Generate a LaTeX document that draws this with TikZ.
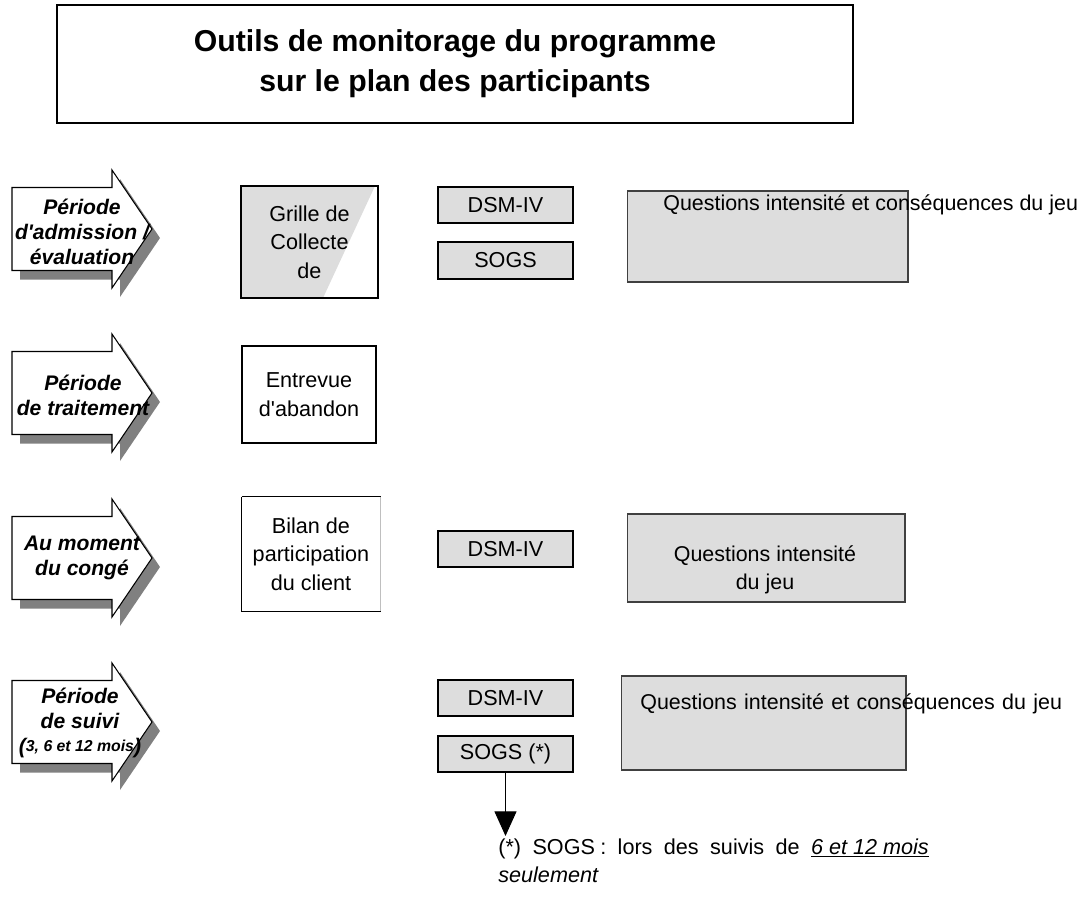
\documentclass[tikz,border=0pt]{standalone}
\usepackage{fontspec}
\setmainfont{Liberation Sans}
\usetikzlibrary{positioning,arrows.meta}
\definecolor{boxgray}{RGB}{221,221,221}
\definecolor{shadowgray}{RGB}{128,128,128}
\tikzset{titlebox/.style={draw, line width=1pt, minimum width=15.92cm, minimum height=2.36cm, align=center, font=\fontsize{17.2}{22.7}\selectfont\bfseries}}
\tikzset{phaselbl/.style={align=center, inner sep=0pt, font=\fontsize{12}{14.2}\selectfont\bfseries\itshape}}
\tikzset{toolbox/.style={draw, line width=0.6pt, inner sep=0pt, align=center, font=\fontsize{12.3}{16.3}\selectfont}}
\tikzset{scalebox/.style={toolbox, fill=boxgray, minimum width=2.7cm, minimum height=0.72cm}}
\tikzset{qbox/.style={draw=black!75, line width=0.6pt, fill=boxgray}}
\tikzset{qtext/.style={inner sep=0pt, align=center, font=\fontsize{12.2}{16.3}\selectfont}}
\tikzset{arr/.style={draw, line width=0.6pt}}

\begin{document}
\begin{tikzpicture}[x=0.02cm, y=-0.02cm]
	\useasboundingbox (0,0) rectangle (1080,903);
	\node[titlebox] (title) at (455,64) {Outils de monitorage du programme\\sur le plan des participants};
	%
	% phase arrows with their shadows
	\foreach \c in {229,393,558,722} {
		\fill[shadowgray] (20,\c-32.5) -- (120,\c-32.5) -- (120,\c-50) -- (160,\c+9)
			-- (120,\c+68) -- (120,\c+50.5) -- (20,\c+50.5) -- cycle;
		\draw[fill=white, line width=0.6pt] (12,\c-41.5) -- (112,\c-41.5) -- (112,\c-59) -- (152,\c)
			-- (112,\c+59) -- (112,\c+41.5) -- (12,\c+41.5) -- cycle;
	}
	\node[phaselbl] (admission) at (82,232) {Période\\d\textquotesingle admission /\\évaluation};
	\node[phaselbl] (traitement) at (83,395) {Période\\de traitement};
	\node[phaselbl] (conge) at (82,558) {Au moment\\du congé};
	\node[phaselbl] (suivi) at (80,723) {Période\\de suivi\\[-1pt]{\fontsize{9}{11}\selectfont\raisebox{-1pt}{\fontsize{12}{12}\selectfont(}3, 6 et 12 mois\raisebox{-1pt}{\fontsize{12}{12}\selectfont)}}};
	%
	% admission / evaluation
	\fill[boxgray] (241,186) -- (375,186) -- (323,298) -- (241,298) -- cycle;
	\node[toolbox, minimum width=2.74cm, minimum height=2.24cm] (grille) at (309.5,242) {Grille de\\Collecte\\de};
	\node[scalebox] (dsm1) at (505.5,205) {DSM-IV};
	\node[scalebox, minimum height=0.74cm] (sogs1) at (505.5,260.5) {SOGS};
	\node[qbox, minimum width=5.62cm, minimum height=1.82cm] (quest1) at (767.5,236.5) {};
	\node[qtext, anchor=west] (quest1txt) at (663,205) {Questions intensité et conséquences du jeu};
	%
	% traitement
	\node[toolbox, minimum width=2.68cm, minimum height=1.94cm] (entrevue) at (309,394.5) {Entrevue\\d\textquotesingle abandon};
	%
	% conge
	\node[inner sep=0pt, minimum width=2.76cm, minimum height=2.28cm] (bilan) at (311,554) {};
	\draw[line width=0.6pt] (bilan.north west) -- (bilan.north east) -- ++(0,10);
	\draw[line width=0.6pt] (bilan.south east) ++(0,-10) -- (bilan.south east) -- (bilan.south west) -- (bilan.north west);
	\draw[black!25, line width=0.5pt] (bilan.north east) -- (bilan.south east);
	\node[qtext, font=\fontsize{12.3}{16.3}\selectfont] (bilantxt) at (bilan.center) {Bilan de\\participation\\du client};
	\node[scalebox] (dsm3) at (505.5,549) {DSM-IV};
	\node[qbox, minimum width=5.56cm, minimum height=1.76cm] (quest3) at (766,558) {};
	\node[qtext] (quest3txt) at (765,570) {Questions intensité\\du jeu};
	%
	% suivi
	\node[scalebox] (dsm4) at (505.5,698) {DSM-IV};
	\node[scalebox] (sogs4) at (505.5,754) {SOGS (*)};
	\node[qbox, minimum width=5.7cm, minimum height=1.88cm] (quest4) at (763.5,723) {};
	\node[qtext, anchor=west] (quest4txt) at (640,704) {\makebox[240pt][s]{Questions intensité et conséquences du jeu}};
	%
	\coordinate (note-top) at (505.5,836);
	\draw[arr, -{Triangle[length=14pt,width=12.5pt]}] (sogs4) -- (note-top);
	\node[inner sep=0pt, anchor=north west, align=left, font=\fontsize{12.3}{16.3}\selectfont] (note) at (498,838)
		{\makebox[245pt][s]{(*) SOGS\hspace{3pt}: lors des suivis de \underline{\textit{6 et 12 mois}}}\\\textit{seulement}};
\end{tikzpicture}
\end{document}
